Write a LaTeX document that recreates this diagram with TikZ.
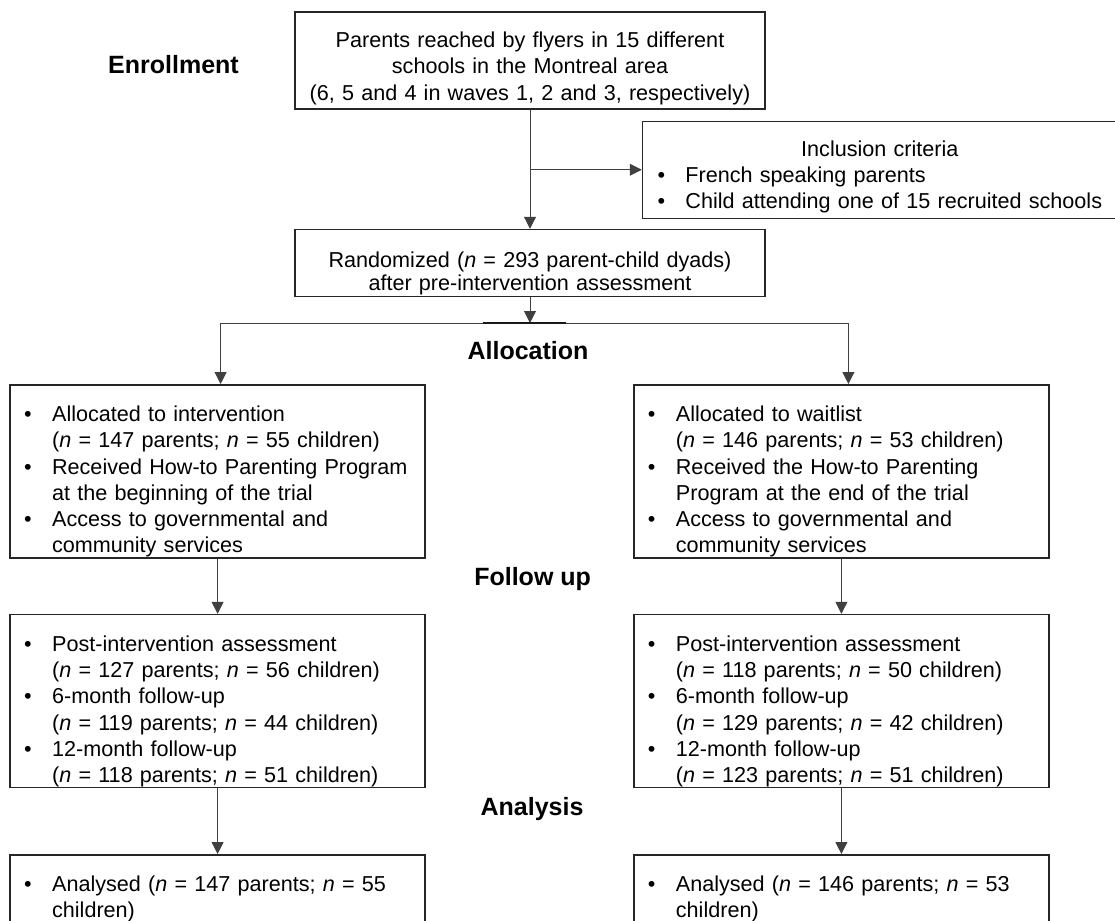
\documentclass[tikz,border=0pt]{standalone}
\usepackage{fontspec}
\setmainfont{Liberation Sans}
\usetikzlibrary{positioning,arrows.meta}

\newcommand{\nn}{\textit{n}}
\newcommand{\blist}[1]{\begin{tabular}[t]{@{}p{14pt}@{}l@{}}#1\end{tabular}}
\newcommand{\clist}[1]{\begin{tabular}[t]{@{}c@{}}#1\end{tabular}}

\begin{document}
\begin{tikzpicture}[->,>={Triangle[width=6pt,length=6pt]},
    conn/.style={draw=black!75,line width=.5pt},
    every edge/.style={conn},
    box/.style={draw=black!85,line width=.75pt,inner xsep=7pt,inner ysep=0pt,text=black,font=\fontsize{10.8}{13.1}\selectfont},
    midbox/.style={box,align=center,inner xsep=4pt,text width=227pt,text height=18pt},
    sidebox/.style={box,align=left,text width=193.5pt,text height=18.5pt,text depth=68pt},
    stage/.style={font=\fontsize{12.5}{15}\selectfont\bfseries,text=black,anchor=base,inner sep=0pt},
    thickseg/.style={-,line width=1.1pt,draw=black!90}]
    \useasboundingbox (0,0) rectangle (557.5pt,-460.5pt);
    \clip (0,0) rectangle (557.5pt,-460.5pt);

    % stages
    \node[stage] (enroll) at (86.75pt,-36.65pt) {Enrollment};
    \node[stage] (alloc) at (264pt,-179.5pt) {Allocation};
    \node[stage] (follow) at (266.3pt,-292.5pt) {Follow up};
    \node[stage] (analysis) at (266pt,-407.5pt) {Analysis};

    % enrollment
    \node[midbox,text depth=30.5pt,anchor=north] (flyers) at (265pt,-5.5pt)
        {\clist{Parents reached by flyers in 15 different\\ schools in the Montreal area\\ (6, 5 and 4 in waves 1, 2 and 3, respectively)}};
    \node[box,align=left,text width=227pt,inner xsep=7.5pt,text height=17.5pt,text depth=31pt,anchor=north west] (incl)
        at ([xshift=-62pt,yshift=-5.5pt]flyers.south east)
        {\blist{\multicolumn{2}{c}{Inclusion criteria}\\
        \textbullet & French speaking parents\\
        \textbullet & Child attending one of 15 recruited schools}};
    \node[midbox,text height=19pt,text depth=14.35pt,font=\fontsize{10.8}{11.5}\selectfont,below=59.65pt of flyers] (rand)
        {\clist{Randomized (\nn{} = 293 parent-child dyads)\\ after pre-intervention assessment}};
    \coordinate[below=13pt of rand] (split);

    % allocation
    \node[sidebox,below=43.5pt of rand,xshift=-156.2pt] (alloc1)
        {\blist{\textbullet & Allocated to intervention\\
        & (\nn{} = 147 parents; \nn{} = 55 children)\\
        \textbullet & Received How-to Parenting Program\\
        & at the beginning of the trial\\
        \textbullet & Access to governmental and\\
        & community services}};
    \node[sidebox,below=43.5pt of rand,xshift=155.7pt] (alloc2)
        {\blist{\textbullet & Allocated to waitlist\\
        & (\nn{} = 146 parents; \nn{} = 53 children)\\
        \textbullet & Received the How-to Parenting\\
        & Program at the end of the trial\\
        \textbullet & Access to governmental and\\
        & community services}};

    % follow up
    \node[sidebox,below=27.65pt of alloc1] (fu1)
        {\blist{\textbullet & Post-intervention assessment\\
        & (\nn{} = 127 parents; \nn{} = 56 children)\\
        \textbullet & 6-month follow-up\\
        & (\nn{} = 119 parents; \nn{} = 44 children)\\
        \textbullet & 12-month follow-up\\
        & (\nn{} = 118 parents; \nn{} = 51 children)}};
    \node[sidebox,below=27.65pt of alloc2] (fu2)
        {\blist{\textbullet & Post-intervention assessment\\
        & (\nn{} = 118 parents; \nn{} = 50 children)\\
        \textbullet & 6-month follow-up\\
        & (\nn{} = 129 parents; \nn{} = 42 children)\\
        \textbullet & 12-month follow-up\\
        & (\nn{} = 123 parents; \nn{} = 51 children)}};

    % analysis
    \node[sidebox,text depth=21.5pt,below=32.85pt of fu1] (ana1)
        {\blist{\textbullet & Analysed (\nn{} = 147 parents; \nn{} = 55\\
        & children)}};
    \node[sidebox,text depth=21.5pt,below=32.85pt of fu2] (ana2)
        {\blist{\textbullet & Analysed (\nn{} = 146 parents; \nn{} = 53\\
        & children)}};

    \path
    (flyers) edge (rand)
    (flyers.south |- incl.west) edge (incl.west)
    (rand) edge (split)
    (alloc1) edge (fu1)
    (alloc2) edge (fu2)
    (fu1) edge (ana1)
    (fu2) edge (ana2)
    ;
    \draw[conn] (split) -| ([xshift=1.5pt]alloc1.north);
    \draw[conn] (split) -| ([xshift=3.5pt]alloc2.north);
    \draw[thickseg] (split) ++(-23.6pt,0) -- ++(41.6pt,0);
\end{tikzpicture}
\end{document}
